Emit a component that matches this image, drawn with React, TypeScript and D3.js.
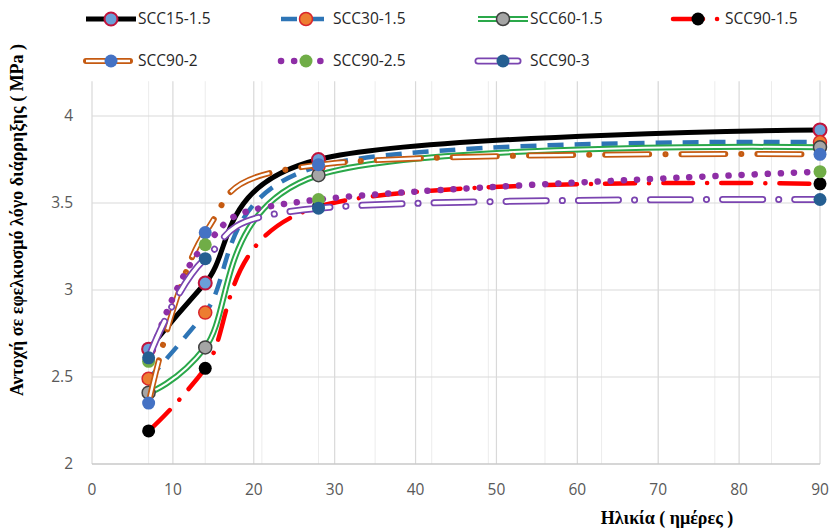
import React from "react";
import * as d3 from "d3";

const days = [7, 14, 28, 90];
const seriesNames = ["SCC15-1.5", "SCC30-1.5", "SCC60-1.5", "SCC90-1.5", "SCC90-2", "SCC90-2.5", "SCC90-3"];
const scc15_15 = [2.66, 3.04, 3.75, 3.92];
const scc30_15 = [2.49, 2.87, 3.71, 3.85];
const scc60_15 = [2.41, 2.67, 3.66, 3.82];
const scc90_15 = [2.19, 2.55, 3.48, 3.61];
const scc90_2 = [2.35, 3.33, 3.72, 3.78];
const scc90_25 = [2.59, 3.26, 3.52, 3.68];
const scc90_3 = [2.61, 3.18, 3.47, 3.52];
const xTicks = [0, 10, 20, 30, 40, 50, 60, 70, 80, 90];
const yTicks = [2, 2.5, 3, 3.5, 4];
const xTitle = "Ηλικία ( ημέρες )";
const yTitle = "Αντοχή σε εφελκυσμό λόγο διάρρηξης ( MPa )";

type Style = {
  color: string;
  width: number;
  dash?: string;
  cap?: "round" | "butt";
  inner?: number;
  innerCap?: "round" | "butt";
  mFill: string;
  mStroke?: string;
  mStrokeW?: number;
};

const styles: Style[] = [
  { color: "#000000", width: 5, mFill: "#6a9fd8", mStroke: "#c0143c", mStrokeW: 2 },
  { color: "#2e75b6", width: 4.5, dash: "16 11", cap: "butt", mFill: "#ed7d31", mStroke: "#d9262c", mStrokeW: 1.5 },
  { color: "#2aa84a", width: 6, inner: 2, mFill: "#a5a5a5", mStroke: "#404040", mStrokeW: 1.5 },
  { color: "#ff0000", width: 4.5, dash: "30 14 0.1 14", cap: "round", mFill: "#000000" },
  { color: "#c55a11", width: 6, inner: 2.5, innerCap: "butt", dash: "44 16 0.1 16", cap: "round", mFill: "#4472c4" },
  { color: "#8e2ea6", width: 6.5, dash: "0.1 13", cap: "round", mFill: "#70ad47" },
  { color: "#7a44b0", width: 7, inner: 3.5, dash: "40 16 0.1 16", cap: "round", mFill: "#255e91" },
];

const allValues = [scc15_15, scc30_15, scc60_15, scc90_15, scc90_2, scc90_25, scc90_3];

const W = 830;
const H = 528;

export default function App() {
  const x = d3.scaleLinear().domain([0, 90]).range([92, 820]);
  const y = d3.scaleLinear().domain([2, 4.2]).range([464, 81.2]);
  const line = d3
    .line<[number, number]>()
    .x((d) => x(d[0]))
    .y((d) => y(d[1]))
    .curve(d3.curveCardinal.tension(0));

  const minorTicks = d3.range(7, 90, 7);
  const gridY = yTicks.filter((t) => t > 2);

  const legendX = [86, 281, 478, 673];
  const legendY = [19, 61];

  const renderLine = (s: Style, d: string, key: string) => (
    <g key={key}>
      <path
        d={d}
        fill="none"
        stroke={s.color}
        strokeWidth={s.width}
        strokeDasharray={s.dash}
        strokeLinecap={s.cap || "butt"}
        strokeLinejoin="round"
      />
      {s.inner ? (
        <path
          d={d}
          fill="none"
          stroke="#ffffff"
          strokeWidth={s.inner}
          strokeDasharray={s.dash}
          strokeLinecap={s.innerCap || s.cap || "butt"}
          strokeLinejoin="round"
        />
      ) : null}
    </g>
  );

  const marker = (s: Style, cx: number, cy: number, key: string) => (
    <circle
      key={key}
      cx={cx}
      cy={cy}
      r={6.5}
      fill={s.mFill}
      stroke={s.mStroke || "none"}
      strokeWidth={s.mStrokeW || 0}
    />
  );

  return (
    <svg
      width={W}
      height={H}
      style={{ position: "absolute", left: 0, top: 0, background: "#fff" }}
      fontFamily="'Open Sans', sans-serif"
    >
      <rect x={0} y={0} width={W} height={H} fill="#ffffff" />
      {minorTicks.map((t) => (
        <line key={"m" + t} x1={x(t)} x2={x(t)} y1={y(4.2)} y2={y(2)} stroke="#ececec" strokeWidth={1} />
      ))}
      {xTicks.map((t) => (
        <line key={"v" + t} x1={x(t)} x2={x(t)} y1={y(4.2)} y2={y(2)} stroke="#d9d9d9" strokeWidth={1.2} />
      ))}
      {gridY.map((t) => (
        <line key={"h" + t} x1={x(0)} x2={x(90)} y1={y(t)} y2={y(t)} stroke="#d9d9d9" strokeWidth={1.2} />
      ))}
      <line x1={x(0)} x2={x(90)} y1={y(2)} y2={y(2)} stroke="#c8c8c8" strokeWidth={1.3} />

      {yTicks.map((t) => (
        <text key={"yt" + t} x={73} y={y(t)} dy="0.35em" textAnchor="end" fontSize={15.5} fill="#595959">
          {t}
        </text>
      ))}
      {xTicks.map((t) => (
        <text key={"xt" + t} x={x(t)} y={490} dy="0.35em" textAnchor="middle" fontSize={15.5} fill="#595959">
          {t}
        </text>
      ))}

      {allValues.map((vals, i) => {
        const pts = days.map((dd, j) => [dd, vals[j]] as [number, number]);
        const s = styles[i];
        return (
          <g key={"s" + i}>
            {renderLine(s, line(pts) || "", "l" + i)}
            {pts.map((p, j) => marker(s, x(p[0]), y(p[1]), "mk" + i + "_" + j))}
          </g>
        );
      })}

      {seriesNames.map((name, i) => {
        const lx = legendX[i % 4];
        const ly = legendY[Math.floor(i / 4)];
        const s = styles[i];
        const d = `M${lx},${ly}L${lx + 50},${ly}`;
        return (
          <g key={"lg" + i}>
            {renderLine(s, d, "lgl" + i)}
            {marker(s, lx + 25, ly, "lgm" + i)}
            <text x={lx + 52} y={ly} dy="0.35em" fontSize={15.5} fill="#262626">
              {name}
            </text>
          </g>
        );
      })}

      <text
        transform={`translate(17,220) rotate(-90)`}
        textAnchor="middle"
        dy="0.35em"
        fontFamily="'Liberation Serif', serif"
        fontWeight="bold"
        fontSize={18}
        fill="#000"
      >
        {yTitle}
      </text>
      <text
        x={667}
        y={518}
        dy="0.35em"
        textAnchor="middle"
        fontFamily="'Liberation Serif', serif"
        fontWeight="bold"
        fontSize={18}
        fill="#000"
      >
        {xTitle}
      </text>
    </svg>
  );
}
